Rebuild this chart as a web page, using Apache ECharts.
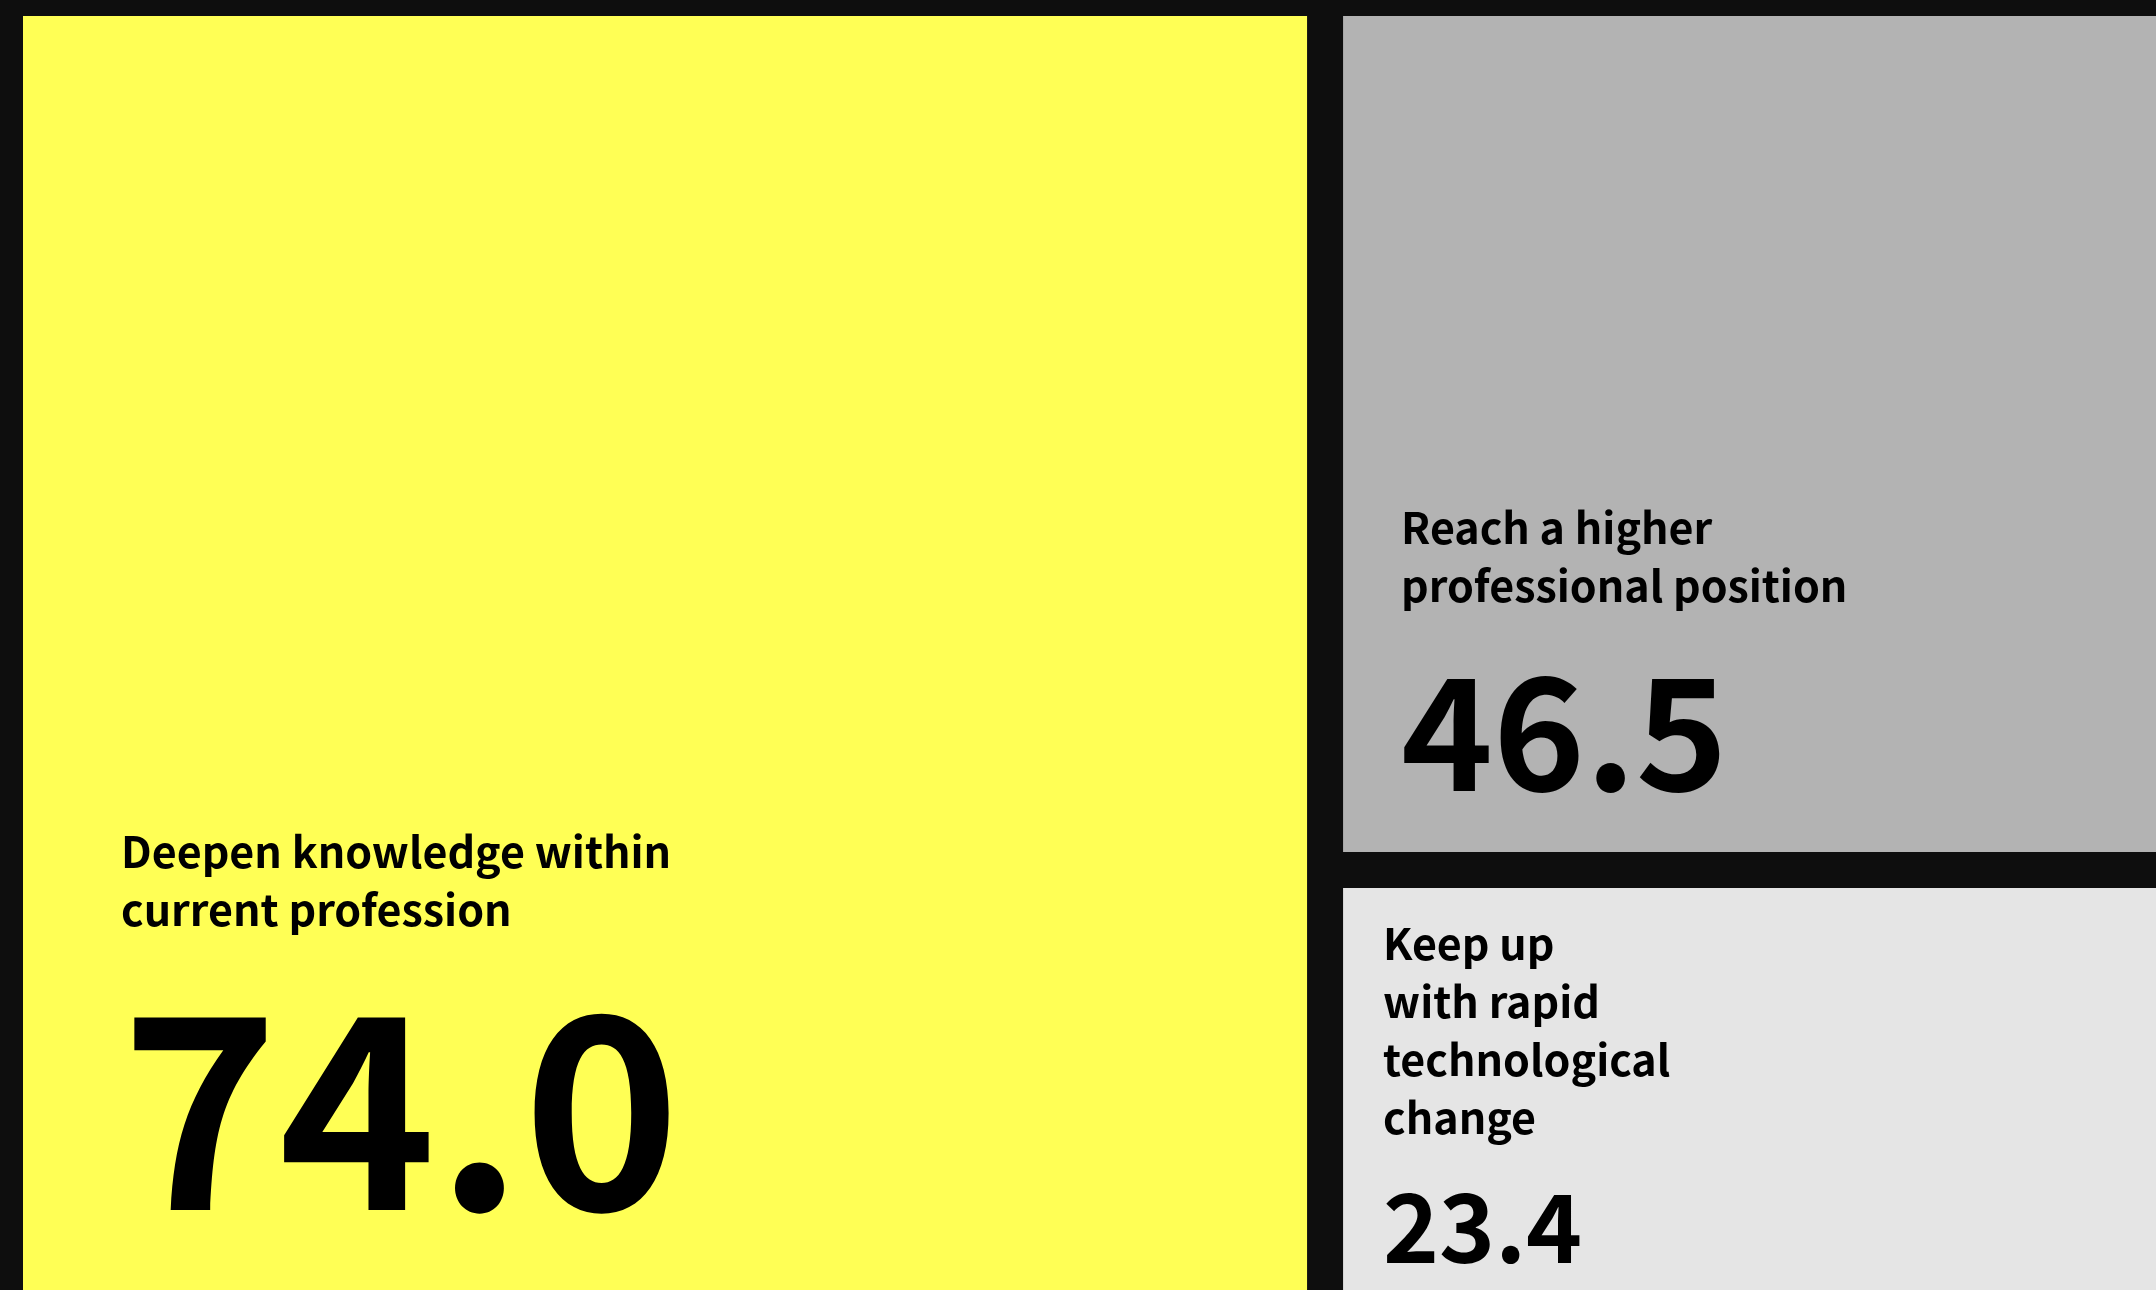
<!DOCTYPE html>
<html>
<head>
<meta charset="utf-8">
<script src="https://cdn.jsdelivr.net/npm/echarts@6/dist/echarts.min.js"></script>
<style>
  html, body { margin: 0; padding: 0; background: #0e0e0e; }
  #main { width: 2156px; height: 1290px; }
</style>
</head>
<body>
<div id="main"></div>
<script>
// goals, share of respondents (%)
var names = [
  'Deepen knowledge within\ncurrent profession',
  'Reach a higher\nprofessional position',
  'Keep up\nwith rapid\ntechnological\nchange'
];
var values = [74.0, 46.5, 23.4];
var colors = ['#ffff55', '#b3b3b3', '#e5e5e5'];

var BG = '#0e0e0e';
var FONT = '"Noto Sans CJK SC", "Source Sans Pro", sans-serif';

// label placement inside each cell: offset from the cell corner, sizes
var labelCfg = [
  { pos: [98, 807], title: 43, num: 267, numLine: 339 },
  { pos: [58, 483], title: 43, num: 156, numLine: 234 },
  { pos: [40, 27], title: 43, num: 95, numLine: 160 }
];

var chart = echarts.init(document.getElementById('main'));

var data = values.map(function (v, i) {
  var c = labelCfg[i];
  var titleLines = names[i].split('\n').map(function (l) {
    return '{t|' + l + '}';
  }).join('\n');
  return {
    name: names[i],
    value: v,
    itemStyle: { color: colors[i], borderColor: BG },
    label: {
      show: true,
      position: c.pos,
      align: 'left',
      verticalAlign: 'top',
      padding: 0,
      overflow: 'none',
      formatter: function () {
        return titleLines + '\n{v|' + v.toFixed(1) + '}';
      },
      rich: {
        t: {
          fontFamily: FONT,
          fontWeight: 'bold',
          fontSize: c.title,
          lineHeight: 58,
          color: '#000'
        },
        v: {
          fontFamily: FONT,
          fontWeight: 'bold',
          fontSize: c.num,
          lineHeight: c.numLine,
          color: '#000'
        }
      }
    }
  };
});

var option = {
  backgroundColor: BG,
  animation: false,
  series: [{
    type: 'treemap',
    left: 23,
    top: 16,
    width: 2531,
    height: 1275,
    roam: false,
    nodeClick: false,
    breadcrumb: { show: false },
    sort: 'desc',
    squareRatio: 1,
    itemStyle: { borderWidth: 0, gapWidth: 36, borderColor: BG },
    levels: [
      { itemStyle: { borderWidth: 0, gapWidth: 36, borderColor: BG } }
    ],
    label: { show: true, padding: 0, overflow: 'none' },
    upperLabel: { show: false },
    emphasis: { disabled: true },
    data: data
  }]
};

chart.setOption(option);
</script>
</body>
</html>
